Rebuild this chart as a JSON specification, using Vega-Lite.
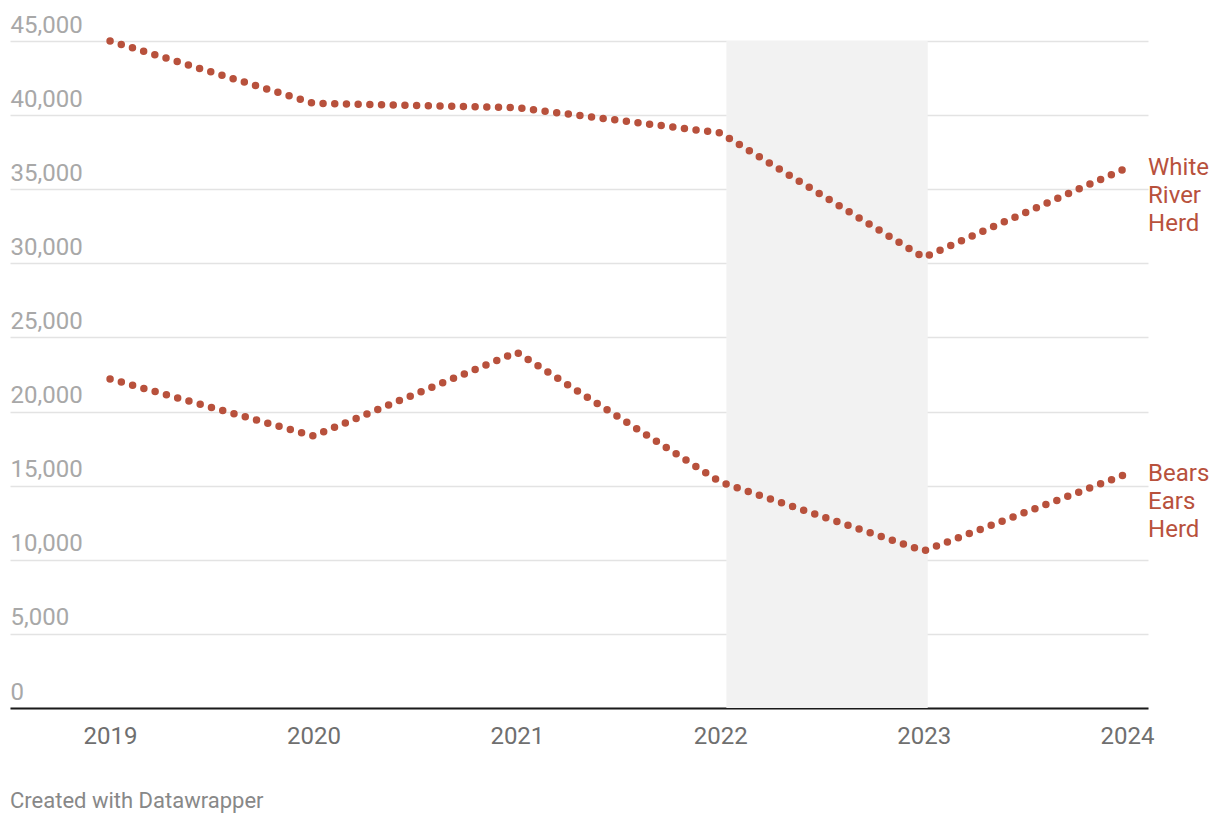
{
  "$schema": "https://vega.github.io/schema/vega-lite/v6.json",
  "width": 1138,
  "height": 667,
  "autosize": {"type": "none"},
  "padding": {"left": 10, "top": 41, "right": 72, "bottom": 116},
  "background": "white",
  "config": {
    "view": {"stroke": null},
    "font": "Roboto"
  },
  "title": {
    "text": "Created with Datawrapper",
    "orient": "bottom",
    "anchor": "start",
    "frame": "group",
    "font": "Roboto",
    "fontSize": 22,
    "fontWeight": "normal",
    "color": "#888888",
    "offset": 60,
    "baseline": "alphabetic"
  },
  "datasets": {
    "herds": [
      {"year": 2019, "herd": "White River Herd", "count": 45000},
      {"year": 2020, "herd": "White River Herd", "count": 40800},
      {"year": 2021, "herd": "White River Herd", "count": 40500},
      {"year": 2022, "herd": "White River Herd", "count": 38800},
      {"year": 2023, "herd": "White River Herd", "count": 30400},
      {"year": 2024, "herd": "White River Herd", "count": 36450},
      {"year": 2019, "herd": "Bears Ears Herd", "count": 22200},
      {"year": 2020, "herd": "Bears Ears Herd", "count": 18350},
      {"year": 2021, "herd": "Bears Ears Herd", "count": 24000},
      {"year": 2022, "herd": "Bears Ears Herd", "count": 15250},
      {"year": 2023, "herd": "Bears Ears Herd", "count": 10600},
      {"year": 2024, "herd": "Bears Ears Herd", "count": 15800}
    ],
    "band": [{"start": 2022.03, "end": 2023.02, "low": 0, "high": 45000}],
    "labels": [
      {"year": 2024, "count": 36450, "label": "White\nRiver\nHerd"},
      {"year": 2024, "count": 15800, "label": "Bears\nEars\nHerd"}
    ]
  },
  "layer": [
    {
      "data": {"name": "band"},
      "mark": {"type": "rect", "color": "#f2f2f2"},
      "encoding": {
        "x": {"field": "start", "type": "quantitative",
          "scale": {"domain": [2018.508, 2024.103], "nice": false, "zero": false},
          "axis": {
            "values": [2019, 2020, 2021, 2022, 2023, 2024],
            "format": "d",
            "title": null,
            "grid": false,
            "ticks": false,
            "tickSize": 0,
            "domain": true,
            "domainColor": "#1a1a1a",
            "domainWidth": 2,
            "labelFont": "Roboto",
            "labelFontSize": 24,
            "labelColor": "#6f6f6f",
            "labelBaseline": "alphabetic",
            "labelPadding": 35,
            "labelFlush": false,
            "labelOverlap": false
          }
        },
        "x2": {"field": "end"},
        "y": {"field": "low", "type": "quantitative",
          "scale": {"domain": [0, 45000], "nice": false},
          "axis": {
            "values": [0, 5000, 10000, 15000, 20000, 25000, 30000, 35000, 40000, 45000],
            "format": ",.0f",
            "title": null,
            "grid": true,
            "gridColor": "#e3e3e3",
            "gridWidth": 1.5,
            "ticks": false,
            "tickSize": 0,
            "domain": false,
            "labelFont": "Roboto",
            "labelFontSize": 24,
            "labelColor": "#a8a8a8",
            "labelAlign": "left",
            "labelBaseline": "alphabetic",
            "labelPadding": 0,
            "labelOffset": -9,
            "labelFlush": false,
            "labelOverlap": false
          }
        },
        "y2": {"field": "high"}
      }
    },
    {
      "data": {"name": "herds"},
      "mark": {
        "type": "line",
        "interpolate": "linear",
        "strokeWidth": 7.5,
        "strokeCap": "round",
        "strokeJoin": "round",
        "strokeDash": [0, 11.7],
        "color": "#b8513c"
      },
      "encoding": {
        "x": {"field": "year", "type": "quantitative"},
        "y": {"field": "count", "type": "quantitative"},
        "detail": {"field": "herd"}
      }
    },
    {
      "data": {"name": "labels"},
      "mark": {
        "type": "text",
        "align": "left",
        "baseline": "alphabetic",
        "dx": 21,
        "dy": 7,
        "font": "Roboto",
        "fontSize": 24,
        "lineHeight": 28,
        "lineBreak": "\n",
        "color": "#b8513c"
      },
      "encoding": {
        "x": {"field": "year", "type": "quantitative"},
        "y": {"field": "count", "type": "quantitative"},
        "text": {"field": "label"}
      }
    }
  ]
}
